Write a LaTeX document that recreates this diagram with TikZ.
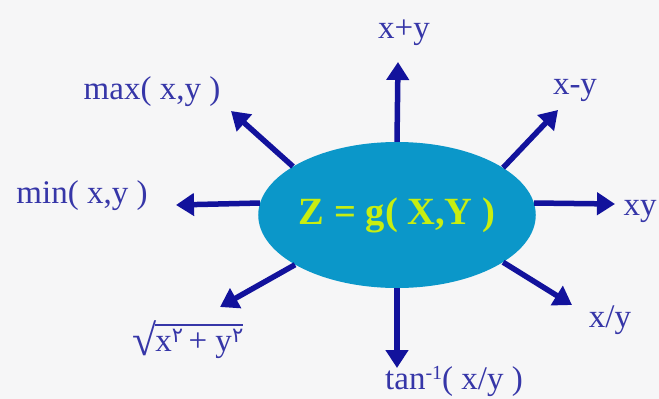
\documentclass[tikz,border=0pt]{standalone}
\usepackage{fontspec}
\setmainfont{Liberation Serif}
\newfontfamily\arabicfont[Script=Arabic]{DejaVu Sans}
\usetikzlibrary{shapes.geometric,arrows.meta}
\definecolor{bgc}{HTML}{F6F6F7}
\definecolor{navyc}{HTML}{12129C}
\definecolor{labc}{HTML}{3636A8}
\definecolor{ellc}{HTML}{0B97C9}
\definecolor{yelc}{HTML}{C8EE10}
\newcommand{\pdig}{\raisebox{9pt}{\arabicfont\fontsize{21}{21}\selectfont ۲}}
\tikzset{
  lab/.style={text=labc,font=\fontsize{33}{33}\selectfont,inner sep=0pt},
  arr/.style={draw=navyc,line width=5.5pt,-{Triangle[length=18pt,width=22pt]}},
}
\begin{document}
\begin{tikzpicture}[x=1pt,y=-1pt]
\fill[bgc] (0,0) rectangle (659,399);
\useasboundingbox (0,0) rectangle (659,399);
\node[ellipse,fill=ellc,minimum width=277pt,minimum height=146pt,inner sep=0pt,
  text=yelc,font=\bfseries\fontsize{38.5}{38.5}\selectfont] (g) at (397,215) {Z = g( X,Y )};
\node[lab] (sum) at (404,33) {x+y};
\node[lab] (diff) at (575,90) {x-y};
\node[lab] (prod) at (640,211) {xy};
\node[lab] (quot) at (610,320) {x/y};
\node[lab] (atan) at (454,381) {tan\raisebox{10pt}{\fontsize{20}{20}\selectfont -1}( x/y )};
\node[lab] (norm) at (188,340) {\raisebox{-4pt}{\fontsize{44}{44}\selectfont √}\kern-1.5pt\vbox{\hrule height 1.5pt\kern4pt\hbox{x\pdig\,+ y\pdig}}};
\node[lab] (mn) at (82,196) {min( x,y )};
\node[lab] (mx) at (152,92) {max( x,y )};
\coordinate (tsum) at (398,62);
\coordinate (tdiff) at (558,110);
\coordinate (tprod) at (615,204);
\coordinate (tquot) at (572,305);
\coordinate (tatan) at (397,368);
\coordinate (tnorm) at (220,307);
\coordinate (tmn) at (176,205);
\coordinate (tmx) at (231,111);
\draw[arr] (g.90) -- (tsum);
\draw[arr] (g.24) -- (tdiff);
\draw[arr] (g.5) -- (tprod);
\draw[arr] (g.-24) -- (tquot);
\draw[arr] (g.270) -- (tatan);
\draw[arr] (g.-154) -- (tnorm);
\draw[arr] (g.175) -- (tmn);
\draw[arr] (g.155) -- (tmx);
\end{tikzpicture}
\end{document}
